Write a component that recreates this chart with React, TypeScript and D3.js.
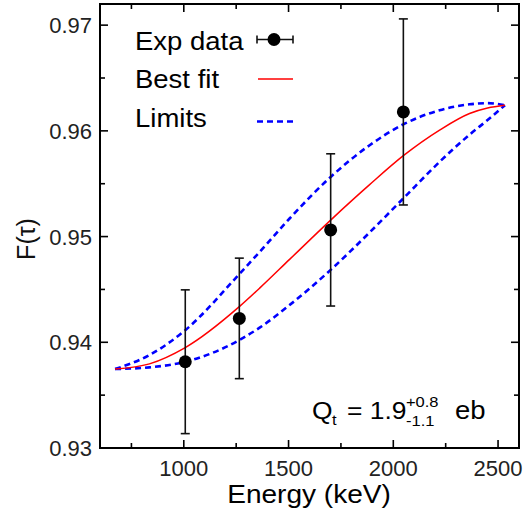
import React from "react";
import * as d3 from "d3";

const energies = [1007, 1265, 1701, 2048];
const fValues = [0.93816, 0.94226, 0.95063, 0.96179];
const fErrors = [0.0068, 0.0057, 0.0072, 0.0088];

const curveEnergy = [672, 836, 1007, 1265, 1362, 1505, 1701, 1887, 2048, 2221, 2364, 2450, 2533];
const bestFit = [0.93747, 0.93796, 0.9395, 0.94337, 0.94512, 0.94784, 0.95156, 0.95491, 0.95765, 0.96007, 0.96164, 0.96216, 0.96242];
const upperLimit = [0.93747, 0.93879, 0.94115, 0.94645, 0.94855, 0.95171, 0.95564, 0.95864, 0.96062, 0.96195, 0.96251, 0.96262, 0.96242];
const lowerLimit = [0.93747, 0.93763, 0.93815, 0.94021, 0.94138, 0.94352, 0.94685, 0.95039, 0.95361, 0.95707, 0.95964, 0.96102, 0.96243];

const xMajor = [1000, 1500, 2000, 2500];
const xMinor = [750, 1250, 1750, 2250];
const yMajor = [0.93, 0.94, 0.95, 0.96, 0.97];
const yMinor = [0.935, 0.945, 0.955, 0.965];

const legendLabels = ["Exp data", "Best fit", "Limits"];

const FONT = "'Liberation Sans', Arial, Helvetica, sans-serif";

function ST(props: { x: number; y: number; size: number; children: any; anchor?: string; sx?: number }) {
  const sx = props.sx ?? 1.1;
  return (
    <text
      transform={`translate(${props.x},${props.y}) scale(${sx},1)`}
      fontSize={props.size}
      textAnchor={props.anchor || "start"}
      fill="#000"
    >
      {props.children}
    </text>
  );
}

export default function App() {
  const W = 523, H = 512;
  const L = 100, R = 519, T = 4, B = 448;
  const x = d3.scaleLinear().domain([600, 2600]).range([L, R]);
  const y = d3.scaleLinear().domain([0.93, 0.972]).range([B, T]);

  const line = (vals: number[]) =>
    d3
      .line<number>()
      .x((_, i) => x(curveEnergy[i]))
      .y((v) => y(v))
      .curve(d3.curveMonotoneX)(vals) || "";

  const majLen = 8, minLen = 5;

  return (
    <svg width={W} height={H} style={{ position: "absolute", left: 0, top: 0 }} fontFamily={FONT}>
      <rect x={0} y={0} width={W} height={H} fill="white" />
      {/* curves */}
      <path d={line(upperLimit)} fill="none" stroke="#0000ff" strokeWidth={2.6} strokeDasharray="6,4" />
      <path d={line(lowerLimit)} fill="none" stroke="#0000ff" strokeWidth={2.6} strokeDasharray="6,4" />
      <path d={line(bestFit)} fill="none" stroke="#ff0000" strokeWidth={1.5} />
      {/* data */}
      {energies.map((e, i) => (
        <g key={i}>
          <line x1={x(e)} x2={x(e)} y1={y(fValues[i] - fErrors[i])} y2={y(fValues[i] + fErrors[i])} stroke="#111" strokeWidth={1.6} />
          <line x1={x(e) - 4.5} x2={x(e) + 4.5} y1={y(fValues[i] - fErrors[i])} y2={y(fValues[i] - fErrors[i])} stroke="#111" strokeWidth={1.6} />
          <line x1={x(e) - 4.5} x2={x(e) + 4.5} y1={y(fValues[i] + fErrors[i])} y2={y(fValues[i] + fErrors[i])} stroke="#111" strokeWidth={1.6} />
          <circle cx={x(e)} cy={y(fValues[i])} r={6.5} fill="#000" />
        </g>
      ))}
      {/* frame */}
      <rect x={L} y={T} width={R - L} height={B - T} fill="none" stroke="#000" strokeWidth={2} />
      {/* x ticks */}
      {xMajor.map((v) => (
        <g key={"xm" + v}>
          <line x1={x(v)} x2={x(v)} y1={B} y2={B - majLen} stroke="#000" strokeWidth={1.6} />
          <line x1={x(v)} x2={x(v)} y1={T} y2={T + majLen} stroke="#000" strokeWidth={1.6} />
          <text x={x(v)} y={B + 28} fontSize={22} textAnchor="middle" fill="#222">{v}</text>
        </g>
      ))}
      {xMinor.map((v) => (
        <g key={"xn" + v}>
          <line x1={x(v)} x2={x(v)} y1={B} y2={B - minLen} stroke="#000" strokeWidth={1.6} />
          <line x1={x(v)} x2={x(v)} y1={T} y2={T + minLen} stroke="#000" strokeWidth={1.6} />
        </g>
      ))}
      {/* y ticks */}
      {yMajor.map((v) => (
        <g key={"ym" + v}>
          <line x1={L} x2={L + majLen} y1={y(v)} y2={y(v)} stroke="#000" strokeWidth={1.6} />
          <line x1={R} x2={R - majLen} y1={y(v)} y2={y(v)} stroke="#000" strokeWidth={1.6} />
          <text x={L - 8} y={y(v) + 8} fontSize={22} textAnchor="end" fill="#222">{v.toFixed(2)}</text>
        </g>
      ))}
      {yMinor.map((v) => (
        <g key={"yn" + v}>
          <line x1={L} x2={L + minLen} y1={y(v)} y2={y(v)} stroke="#000" strokeWidth={1.6} />
          <line x1={R} x2={R - minLen} y1={y(v)} y2={y(v)} stroke="#000" strokeWidth={1.6} />
        </g>
      ))}
      {/* axis titles */}
      <ST x={309} y={503} size={25.5} anchor="middle">Energy (keV)</ST>
      <text transform={`translate(35,239) rotate(-90)`} fontSize={25} textAnchor="middle" fill="#111">F(τ)</text>
      {/* legend */}
      <ST x={135} y={50} size={25}>{legendLabels[0]}</ST>
      <ST x={135} y={88} size={25}>{legendLabels[1]}</ST>
      <ST x={135} y={127} size={25}>{legendLabels[2]}</ST>
      <line x1={257} x2={293} y1={39.5} y2={39.5} stroke="#111" strokeWidth={1.6} />
      <line x1={257} x2={257} y1={35.5} y2={43.5} stroke="#111" strokeWidth={1.6} />
      <line x1={293} x2={293} y1={35.5} y2={43.5} stroke="#111" strokeWidth={1.6} />
      <circle cx={274} cy={39.5} r={6.5} fill="#000" />
      <line x1={258} x2={293} y1={79} y2={79} stroke="#ff0000" strokeWidth={1.5} />
      <line x1={257} x2={293} y1={121.5} y2={121.5} stroke="#0000ff" strokeWidth={2.6} strokeDasharray="6,4" />
      {/* annotation */}
      <ST x={312} y={419} size={24}>Q</ST>
      <ST x={332} y={425} size={15}>t</ST>
      <ST x={347} y={419} size={24}>= 1.9</ST>
      <ST x={406} y={407} size={15}>+0.8</ST>
      <ST x={406} y={426} size={15}>-1.1</ST>
      <ST x={455} y={419} size={25}>eb</ST>
    </svg>
  );
}
